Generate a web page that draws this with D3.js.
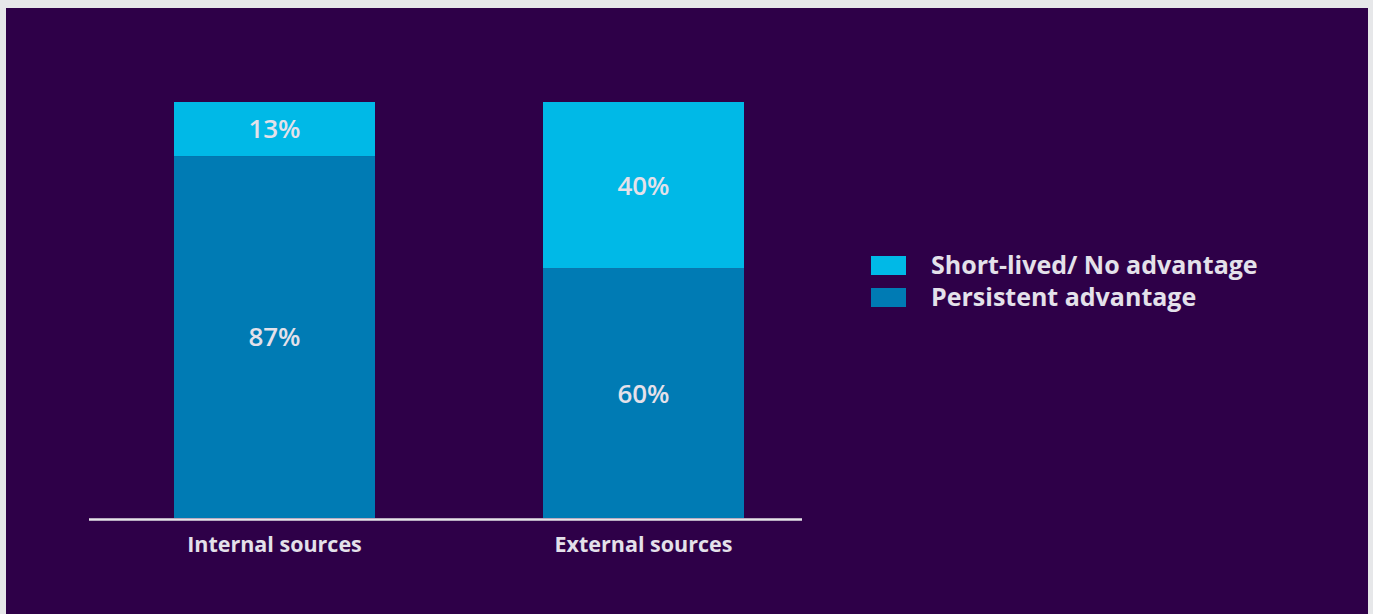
<!DOCTYPE html>
<html><head><meta charset="utf-8">
<script src="https://cdn.jsdelivr.net/npm/d3@7"></script>
<style>html,body{margin:0;padding:0;background:#e6e7e9;}svg{display:block;}</style>
</head><body>
<script>
const categories = ["Internal sources", "External sources"];
const persistent = [87, 60];
const shortLived = [13, 40];
const seriesNames = ["Short-lived/ No advantage", "Persistent advantage"];
const seriesColors = ["#00b9e7", "#007bb4"];

const W = 1373, H = 614;
const svg = d3.select("body").append("svg").attr("width", W).attr("height", H);
svg.append("rect").attr("x", 6).attr("y", 8).attr("width", 1362).attr("height", 606).attr("fill", "#2e0048");

const rows = categories.map((c, i) => ({cat: c, persistent: persistent[i], short: shortLived[i]}));
const stack = d3.stack().keys(["persistent", "short"])(rows);

const x = d3.scaleBand().domain(categories).range([174, 744]).paddingInner(0.4553).paddingOuter(0);
const y = d3.scaleLinear().domain([0, 100]).range([518, 102]);
const color = {persistent: seriesColors[1], short: seriesColors[0]};
const FONT = "'Open Sans', 'Noto Sans', sans-serif";

const g = svg.append("g");
stack.forEach(s => {
  g.selectAll(null).data(s).enter().append("rect")
    .attr("x", d => x(d.data.cat))
    .attr("width", x.bandwidth())
    .attr("y", d => y(d[1]))
    .attr("height", d => y(d[0]) - y(d[1]))
    .attr("fill", color[s.key]);
  g.selectAll(null).data(s).enter().append("text")
    .attr("x", d => x(d.data.cat) + x.bandwidth() / 2)
    .attr("y", d => (y(d[0]) + y(d[1])) / 2)
    .attr("dy", "0.36em")
    .attr("text-anchor", "middle")
    .attr("fill", "#e4e1ea")
    .style("font-family", FONT)
    .style("font-weight", "600")
    .style("font-size", "26px")
    .text(d => (d[1] - d[0]) + "%");
});

// baseline
svg.append("line").attr("x1", 89).attr("x2", 802).attr("y1", 519.5).attr("y2", 519.5)
  .attr("stroke", "#e6e4e8").attr("stroke-width", 2.5);

// category labels
svg.selectAll(null).data(categories).enter().append("text")
  .attr("x", d => x(d) + x.bandwidth() / 2)
  .attr("y", 552)
  .attr("text-anchor", "middle")
  .attr("fill", "#e4e1ea")
  .style("font-family", FONT)
  .style("font-weight", "bold")
  .style("font-size", "21.5px")
  .text(d => d);

// legend
const leg = svg.append("g");
seriesNames.forEach((n, i) => {
  leg.append("rect").attr("x", 871).attr("y", 256 + i * 32).attr("width", 35).attr("height", 19).attr("fill", seriesColors[i]);
  leg.append("text").attr("x", 931).attr("y", 274 + i * 32)
    .attr("fill", "#e4e1ea")
    .style("font-family", FONT)
    .style("font-weight", "bold")
    .style("font-size", "25px")
    .text(n);
});
</script>
</body></html>
